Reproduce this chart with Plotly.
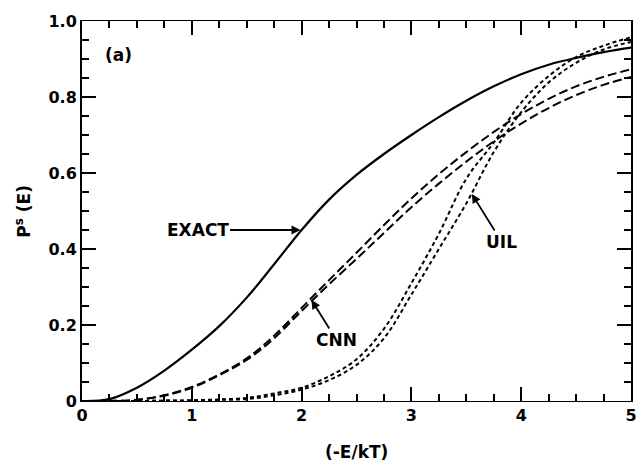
import plotly.graph_objects as go

x_vals = [0, 0.25, 0.5, 0.75, 1.0, 1.25, 1.5, 1.75, 2.0, 2.25, 2.5, 2.75, 3.0, 3.25, 3.5, 3.75, 4.0, 4.25, 4.5, 4.75, 5.0]

exact = [0, 0.005, 0.035, 0.08, 0.135, 0.197, 0.272, 0.36, 0.45, 0.53, 0.595, 0.65, 0.70, 0.747, 0.79, 0.828, 0.86, 0.885, 0.903, 0.918, 0.93]

cnn_upper = [0, 0, 0.003, 0.015, 0.037, 0.07, 0.112, 0.172, 0.245, 0.318, 0.39, 0.463, 0.533, 0.597, 0.655, 0.708, 0.755, 0.795, 0.828, 0.853, 0.873]
cnn_lower = [0, 0, 0.003, 0.014, 0.035, 0.068, 0.108, 0.165, 0.237, 0.307, 0.374, 0.442, 0.51, 0.572, 0.63, 0.683, 0.73, 0.771, 0.805, 0.832, 0.853]

uil_a = [0, 0, 0, 0.001, 0.002, 0.004, 0.008, 0.02, 0.035, 0.065, 0.11, 0.19, 0.31, 0.44, 0.585, 0.68, 0.785, 0.855, 0.905, 0.935, 0.957]
uil_b = [0, 0, 0, 0.001, 0.001, 0.003, 0.005, 0.015, 0.03, 0.055, 0.095, 0.165, 0.28, 0.40, 0.52, 0.655, 0.76, 0.838, 0.89, 0.925, 0.945]

FONT = "DejaVu Sans"

fig = go.Figure()
common = dict(mode="lines", line_shape="spline", showlegend=False, hoverinfo="skip")
fig.add_trace(go.Scatter(x=x_vals, y=exact, line=dict(color="black", width=2.2), **common))
fig.add_trace(go.Scatter(x=x_vals, y=cnn_upper, line=dict(color="black", width=2, dash="9px,4px"), **common))
fig.add_trace(go.Scatter(x=x_vals, y=cnn_lower, line=dict(color="black", width=2, dash="9px,4px"), **common))
fig.add_trace(go.Scatter(x=x_vals, y=uil_a, line=dict(color="black", width=2, dash="4px,3px"), **common))
fig.add_trace(go.Scatter(x=x_vals, y=uil_b, line=dict(color="black", width=2, dash="4px,3px"), **common))

fig.update_xaxes(
    range=[0, 5], ticks="inside", ticklen=14, tickwidth=2, tickcolor="black",
    showline=True, linecolor="black", mirror="ticks", automargin=False,
    tickfont=dict(family=FONT, size=16, color="black", weight="bold"),
    minor=dict(ticks="inside", ticklen=7, tickwidth=2, tickcolor="black", dtick=0.25),
)
fig.update_yaxes(
    range=[0, 1.0], ticks="inside", ticklen=14, tickwidth=2, tickcolor="black",
    showline=True, linecolor="black", mirror="ticks", automargin=False,
    tickvals=[0, 0.2, 0.4, 0.6, 0.8, 1.0], ticktext=["0", "0.2", "0.4", "0.6", "0.8", "1.0"],
    showgrid=False, zeroline=False, linewidth=2,
    tickfont=dict(family=FONT, size=16, color="black", weight="bold"),
    minor=dict(ticks="inside", ticklen=7, tickwidth=2, tickcolor="black", dtick=0.05),
)

title_font = dict(family=FONT, size=17, color="black", weight="bold")
fig.add_annotation(xref="paper", yref="paper", x=0.5, y=-0.134, text="(-E/kT)",
                   showarrow=False, font=title_font, xanchor="center", yanchor="middle")
fig.add_annotation(xref="paper", yref="paper", x=-0.108, y=0.5, text="P<sup>s</sup> (E)", textangle=-90,
                   showarrow=False, font=title_font, xanchor="center", yanchor="middle")

ann_font = dict(family=FONT, size=17, color="black", weight="bold")
fig.add_annotation(x=0.33, y=0.91, text="(a)", showarrow=False, font=ann_font)
fig.add_annotation(x=1.99, y=0.45, text="EXACT", showarrow=True, ax=-103, ay=0,
                   arrowhead=2, arrowsize=1, arrowwidth=1.8, arrowcolor="black", font=ann_font)
fig.add_annotation(x=2.09, y=0.266, text="CNN", showarrow=True, ax=25, ay=40,
                   arrowhead=2, arrowsize=1, arrowwidth=1.8, arrowcolor="black", font=ann_font)
fig.add_annotation(x=3.55, y=0.545, text="UIL", showarrow=True, ax=30, ay=48,
                   arrowhead=2, arrowsize=1, arrowwidth=1.8, arrowcolor="black", font=ann_font)

fig.update_layout(
    width=640, height=460,
    margin=dict(l=82, r=9, t=21, b=59),
    plot_bgcolor="white",
)

fig.write_html("out.html", config={"displayModeBar": False})
